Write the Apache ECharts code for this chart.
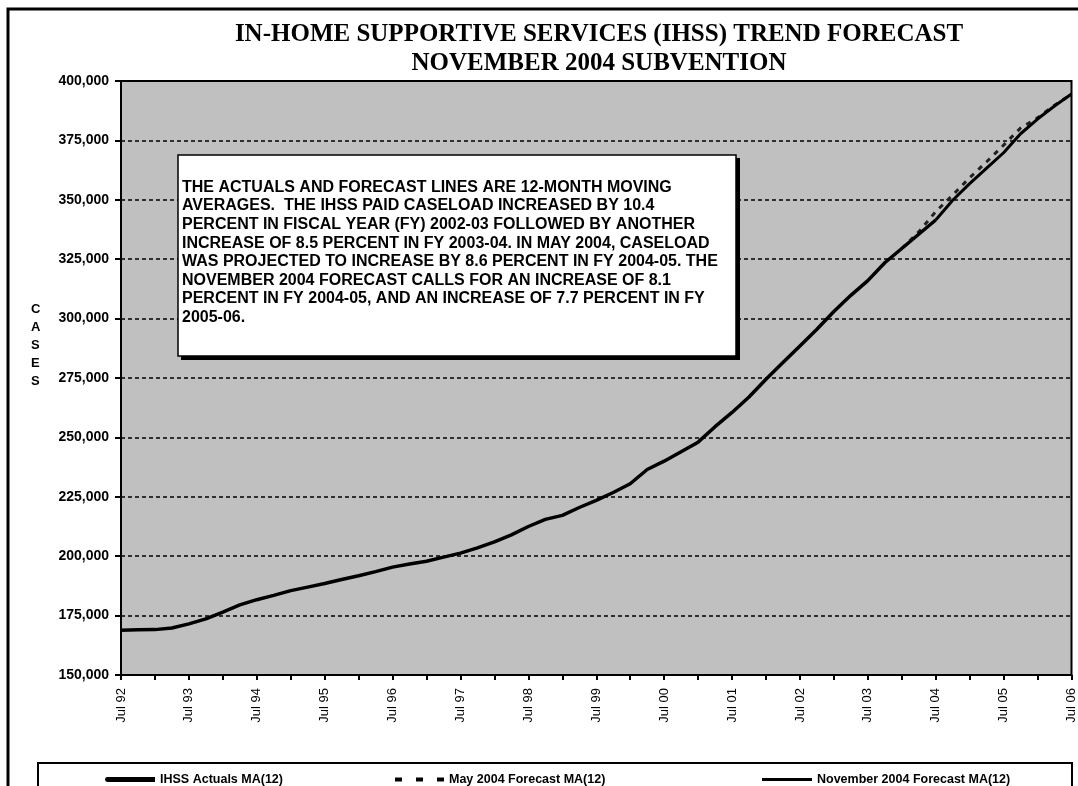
<!DOCTYPE html>
<html>
<head>
<meta charset="utf-8">
<script src="https://cdn.jsdelivr.net/npm/echarts@6/dist/echarts.min.js"></script>
<style>
  html, body { margin: 0; padding: 0; background: #fff; }
  #chart { width: 1078px; height: 786px; }
</style>
</head>
<body>
<div id="chart"></div>
<script>
// quarterly points, Jul 92 .. Jul 06
var quarters = [];
var qNames = ['Jul', 'Oct', 'Jan', 'Apr'];
for (var i = 0; i < 57; i++) {
  var yr = 92 + Math.floor((i + 2) / 4);
  quarters.push(qNames[i % 4] + ' ' + String(yr % 100).padStart(2, '0'));
}

var yTicks = [150000, 175000, 200000, 225000, 250000, 275000, 300000, 325000, 350000, 375000, 400000];

// IHSS actuals MA(12), Jul 92 .. Jul 04
var actuals = [
  168800, 169000, 169100, 169800, 171500, 173600, 176500, 179500,
  181700, 183500, 185500, 187000, 188500, 190200, 191800, 193500,
  195400, 196700, 197900, 199600, 201300, 203500, 206000, 209000,
  212500, 215500, 217200, 220500, 223500, 226800, 230500, 236500,
  240000, 244000, 248000, 254500, 260500, 267000, 274500, 281500,
  288500, 295500, 303000, 309800, 316000, 323500, 329500, 335500,
  341500
];

// May 2004 forecast MA(12), from Jan 04
var mayForecast = [329500, 336500, 345000, 352000, 359300, 366000, 373000, 380200, 384500, 389800, 394500];

// November 2004 forecast MA(12), from Jul 04
var novForecast = [341500, 349800, 356800, 363300, 369800, 377800, 384000, 389500, 394500];

function pad(arr, start) {
  var out = [];
  for (var i = 0; i < quarters.length; i++) {
    var k = i - start;
    out.push(k >= 0 && k < arr.length ? arr[k] : null);
  }
  return out;
}

var noteText = [
  'THE ACTUALS AND FORECAST LINES ARE 12-MONTH MOVING',
  'AVERAGES.  THE IHSS PAID CASELOAD INCREASED BY 10.4',
  'PERCENT IN FISCAL YEAR (FY) 2002-03 FOLLOWED BY ANOTHER',
  'INCREASE OF 8.5 PERCENT IN FY 2003-04. IN MAY 2004, CASELOAD',
  'WAS PROJECTED TO INCREASE BY 8.6 PERCENT IN FY 2004-05. THE',
  'NOVEMBER 2004 FORECAST CALLS FOR AN INCREASE OF 8.1',
  'PERCENT IN FY 2004-05, AND AN INCREASE OF 7.7 PERCENT IN FY',
  '2005-06.'
].join('\n');

var chart = echarts.init(document.getElementById('chart'));
var legendText = { color: '#000', fontSize: 12.5, fontWeight: 'bold', fontFamily: 'Liberation Sans' };

var option = {
  animation: false,
  backgroundColor: '#fff',
  title: {
    text: 'IN-HOME SUPPORTIVE SERVICES (IHSS) TREND FORECAST\nNOVEMBER 2004 SUBVENTION',
    left: 594, top: 15, textAlign: 'center',
    textStyle: { fontFamily: 'Liberation Serif', fontSize: 25, fontWeight: 'bold', color: '#000', lineHeight: 29 }
  },
  grid: { left: 121, right: 5, top: 81, bottom: 111, show: true, backgroundColor: '#c0c0c0', borderColor: '#000', borderWidth: 2 },
  legend: [
    { data: ['IHSS Actuals MA(12)'], left: 100, top: 768, icon: 'path://M2,0h48v5h-48a2.5,2.5 0 0 1 0,-5z', itemWidth: 50, itemHeight: 5, textStyle: legendText },
    { data: ['May 2004 Forecast MA(12)'], left: 390, top: 768, icon: 'path://M0,0h7v4h-7z M21,0h7v4h-7z M42,0h7v4h-7z', itemWidth: 49, itemHeight: 4, textStyle: legendText },
    { data: ['November 2004 Forecast MA(12)'], left: 757, top: 768, icon: 'rect', itemWidth: 50, itemHeight: 3, textStyle: legendText }
  ],
  xAxis: {
    type: 'category',
    data: quarters,
    boundaryGap: false,
    axisLine: { lineStyle: { color: '#000', width: 2 } },
    axisTick: { interval: 1, length: 5, lineStyle: { color: '#000', width: 2 } },
    axisLabel: { interval: 3, rotate: 90, color: '#000', fontSize: 13, fontFamily: 'Liberation Sans', margin: 13 },
    splitLine: { show: false }
  },
  yAxis: {
    type: 'value',
    min: yTicks[0], max: yTicks[yTicks.length - 1], interval: 25000,
    axisLine: { show: true, lineStyle: { color: '#000', width: 2 } },
    axisTick: { show: true, length: 6, lineStyle: { color: '#000', width: 2 } },
    axisLabel: {
      color: '#000', fontSize: 14, fontWeight: 'bold', fontFamily: 'Liberation Sans', margin: 12,
      formatter: function (v) { return v.toString().replace(/\B(?=(\d{3})+(?!\d))/g, ','); }
    },
    splitLine: { lineStyle: { color: '#000', type: [4, 3], width: 1.5 } }
  },
  series: [
    {
      name: 'IHSS Actuals MA(12)', type: 'line', data: pad(actuals, 0), symbol: 'none', z: 4,
      lineStyle: { color: '#000', width: 3.5 }, itemStyle: { color: '#000' }
    },
    {
      name: 'May 2004 Forecast MA(12)', type: 'line', data: pad(mayForecast, 46), symbol: 'none', z: 3,
      lineStyle: { color: '#222', width: 3, type: [5, 6] }, itemStyle: { color: '#000' }
    },
    {
      name: 'November 2004 Forecast MA(12)', type: 'line', data: pad(novForecast, 48), symbol: 'none', z: 5,
      lineStyle: { color: '#000', width: 3 }, itemStyle: { color: '#000' }
    }
  ],
  graphic: [
    { type: 'rect', shape: { x: 8, y: 9, width: 1090, height: 800 }, style: { fill: 'none', stroke: '#000', lineWidth: 3 }, z: 0 },
    { type: 'rect', shape: { x: 38, y: 763, width: 1034, height: 30 }, style: { fill: 'none', stroke: '#000', lineWidth: 2 }, z: 1 },
    {
      type: 'text', left: 31, top: 300,
      style: { text: 'C\nA\nS\nE\nS', fontSize: 13, fontWeight: 'bold', fontFamily: 'Liberation Sans', fill: '#000', lineHeight: 18, align: 'center' }
    },
    { type: 'rect', shape: { x: 181, y: 158, width: 559, height: 202 }, style: { fill: '#000' }, z: 10 },
    { type: 'rect', shape: { x: 178, y: 155, width: 558, height: 201 }, style: { fill: '#fff', stroke: '#000', lineWidth: 1.5 }, z: 11 },
    {
      type: 'text', x: 182, y: 178, z: 12,
      style: { text: noteText, fontSize: 16, fontWeight: 'bold', fontFamily: 'Liberation Sans', fill: '#000', lineHeight: 18.6 }
    }
  ]
};
chart.setOption(option);
</script>
</body>
</html>
